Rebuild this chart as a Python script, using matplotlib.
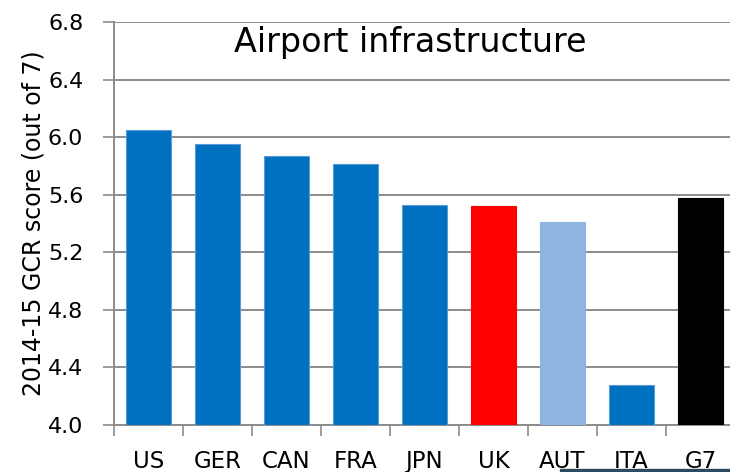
import matplotlib.pyplot as plt
import numpy as np
from matplotlib.patches import Rectangle

# Данные
countries = ['US', 'GER', 'CAN', 'FRA', 'JPN', 'UK', 'AUT', 'ITA', 'G7']
scores = [6.05, 5.95, 5.87, 5.81, 5.53, 5.52, 5.41, 4.28, 5.58]
colors = ['#0070C0', '#0070C0', '#0070C0', '#0070C0', '#0070C0',
          '#FF0000', '#8DB4E2', '#0070C0', '#000000']
yticks = [4.0, 4.4, 4.8, 5.2, 5.6, 6.0, 6.4, 6.8]

plt.rcParams['font.family'] = ['DejaVu Sans']

fig = plt.figure(figsize=(7.3, 4.72), dpi=100)
ax = fig.add_axes([0.156, 0.0996, 0.851, 0.8538])

x = np.arange(len(countries))
edges = ['#5B9BD5' if c == '#0070C0' else c for c in colors]
ax.bar(x, [s - 4.0 for s in scores], bottom=4.0, width=0.66, color=colors,
       edgecolor=edges, linewidth=0.8, zorder=3)

ax.set_ylim(4.0, 6.8)
ax.set_xlim(-0.5, len(countries) - 0.5)
ax.set_yticks(yticks)
ax.set_yticklabels([f'{v:.1f}' for v in yticks], fontsize=16)
ax.yaxis.grid(True, color='#8c8c8c', linewidth=1.4, zorder=0)
ax.set_axisbelow(True)

ax.set_xticks(x)
ax.set_xticklabels(countries, fontsize=16.5)
ax.set_xticks(np.arange(len(countries) + 1) - 0.5, minor=True)
ax.tick_params(axis='x', which='major', length=0, pad=18)
ax.tick_params(axis='x', which='minor', length=8, width=1.2, color='#8c8c8c')
ax.tick_params(axis='y', length=8, width=1.2, color='#8c8c8c', pad=14)

for s in ['top', 'right']:
    ax.spines[s].set_visible(False)
for s in ['left', 'bottom']:
    ax.spines[s].set_color('#8c8c8c')
    ax.spines[s].set_linewidth(1.4)

ax.set_ylabel('2014-15 GCR score (out of 7)', fontsize=17, labelpad=2)
ax.text(3.8, 6.66, 'Airport infrastructure', ha='center', va='center',
        fontsize=24, zorder=4)

# тёмная полоска снизу справа
fig.patches.append(Rectangle((560 / 730, 0), 170 / 730, 3 / 472,
                             transform=fig.transFigure, color='#2B4A5C'))

fig.savefig('out.png', dpi=100)
